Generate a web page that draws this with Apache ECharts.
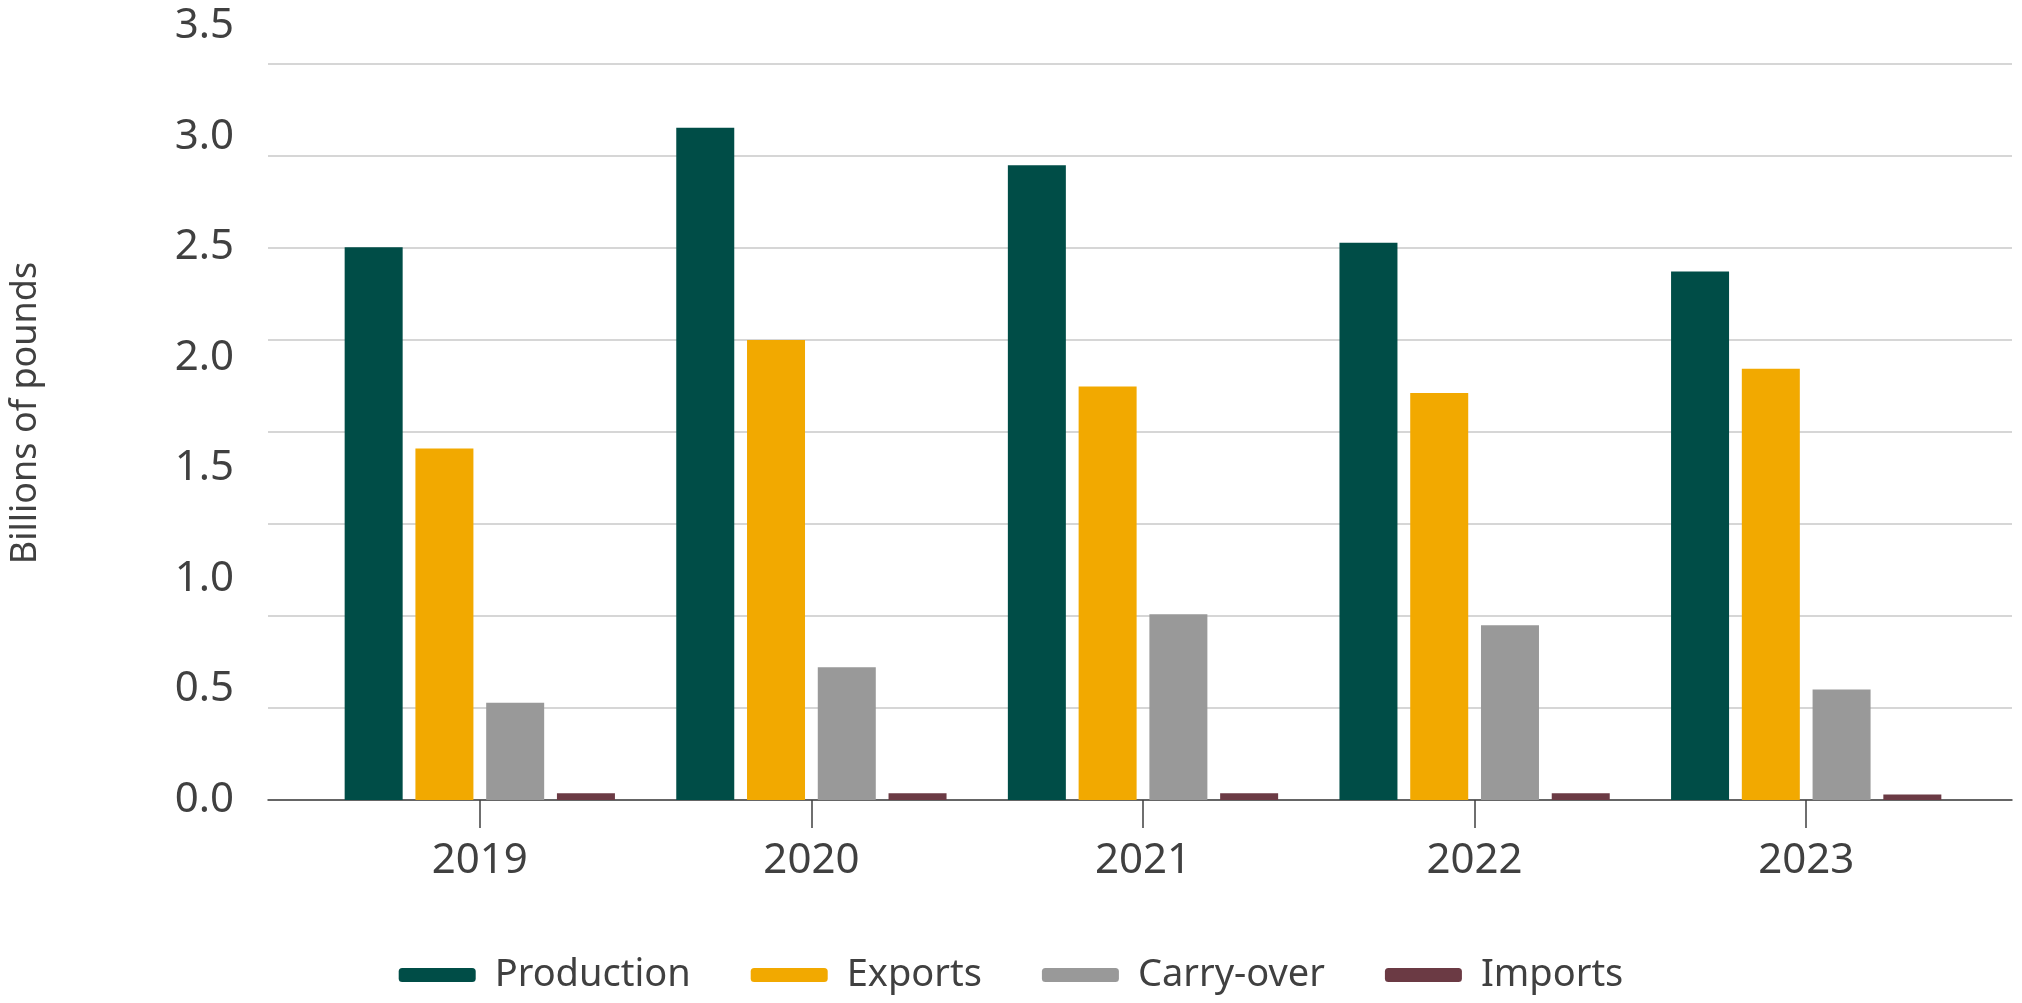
<!DOCTYPE html><html><head><meta charset="utf-8"><script src="https://cdn.jsdelivr.net/npm/echarts@6/dist/echarts.min.js"></script>
<style>html,body{margin:0;padding:0;background:#fff}#c{width:2022px;height:1003px}</style></head><body><div id="c"></div><script>
const categories=['2019','2020','2021','2022','2023'];
const production=[2.50,3.04,2.87,2.52,2.39];
const exportsV=[1.59,2.08,1.87,1.84,1.95];
const carryover=[0.44,0.60,0.84,0.79,0.50];
const imports=[0.03,0.03,0.03,0.03,0.025];
const colors=['#004d47','#f2a900','#999999','#6b3a44'];
const txt='#404040';
const F='Noto Sans';
const c=echarts.init(document.getElementById('c'));
function bar(n,d,i){return {name:n,type:'bar',data:d,barWidth:58,barGap:'22%',itemStyle:{color:colors[i]},xAxisIndex:0,yAxisIndex:0};}
c.setOption({
animation:false,
grid:[{left:306,right:50,top:26,bottom:203},{left:268,right:10,top:64,bottom:203}],
legend:{bottom:4,left:'center',icon:'roundRect',itemWidth:77,itemHeight:14,itemGap:60,textStyle:{color:txt,fontSize:38,fontFamily:F,padding:[0,0,0,14]},data:['Production','Exports','Carry-over','Imports']},
xAxis:[{type:'category',data:categories,gridIndex:0,axisLine:{show:false},axisTick:{show:true,alignWithLabel:true,length:28,lineStyle:{color:'#404040',width:1.5}},axisLabel:{color:txt,fontSize:42,fontFamily:F,margin:40}},
{type:'category',data:categories,gridIndex:1,axisLine:{show:true,lineStyle:{color:'#404040',width:1.5}},axisTick:{show:false},axisLabel:{show:false}}],
yAxis:[{type:'value',gridIndex:0,min:0,max:3.5,interval:0.5,splitLine:{show:false},axisLine:{show:false},axisTick:{show:false},
axisLabel:{color:txt,fontSize:42,fontFamily:F,margin:80,formatter:v=>v.toFixed(1)},
name:'Billions of pounds',nameLocation:'middle',nameRotate:90,nameGap:270,nameTextStyle:{color:txt,fontSize:36,fontFamily:F}},
{type:'value',gridIndex:1,min:0,max:8,interval:1,axisLabel:{show:false},axisLine:{show:false},axisTick:{show:false},splitLine:{lineStyle:{color:'#c8c8c8',width:1.5}}}],
series:[bar('Production',production,0),bar('Exports',exportsV,1),bar('Carry-over',carryover,2),bar('Imports',imports,3)]
});
</script></body></html>
